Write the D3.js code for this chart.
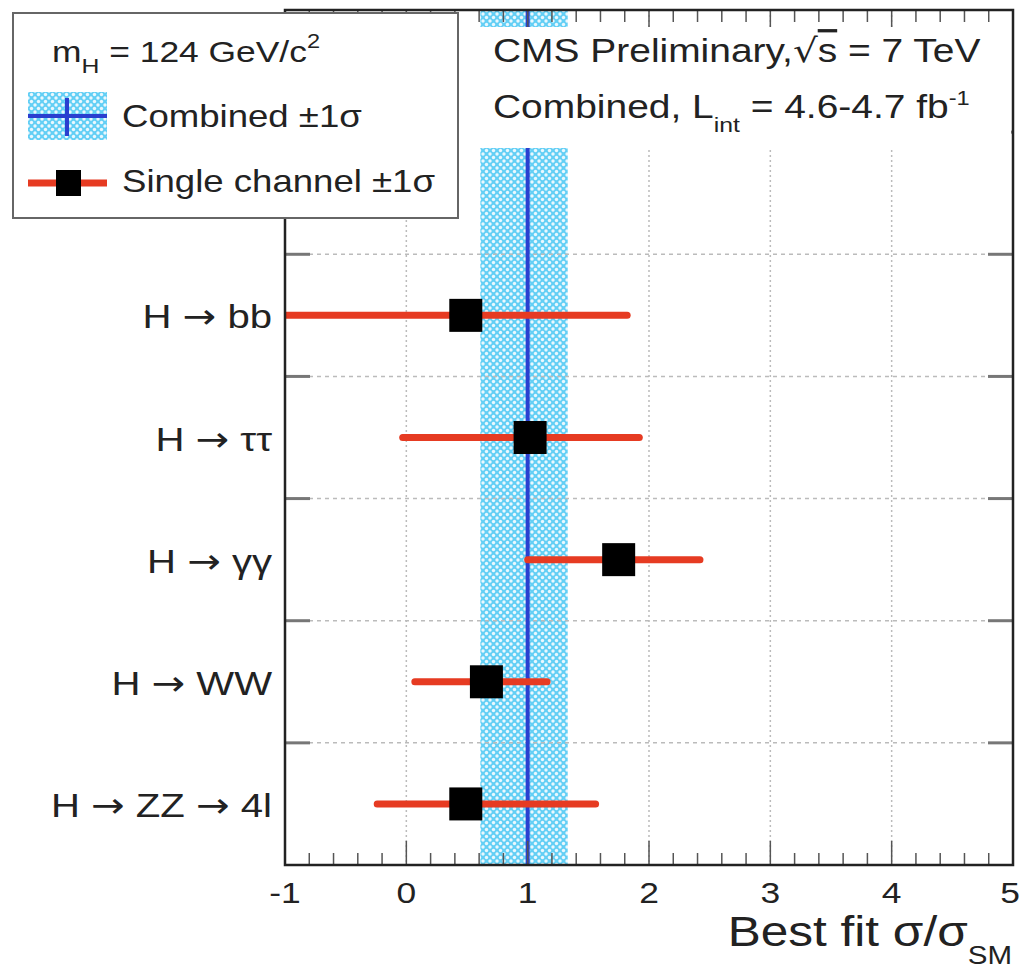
<!DOCTYPE html>
<html>
<head>
<meta charset="utf-8">
<script src="https://cdn.jsdelivr.net/npm/d3@7"></script>
<style>
  html, body { margin: 0; padding: 0; background: #fff; }
  svg { display: block; font-family: "Liberation Sans", Arial, Helvetica, sans-serif; }
  .arrow { font-family: "DejaVu Sans", sans-serif; }
</style>
</head>
<body>
<svg id="chart" width="1021" height="969"></svg>
<script>
// Decay channels, top to bottom
const channels = ["H → bb", "H → ττ", "H → γγ", "H → WW", "H → ZZ → 4l"];
// Best-fit signal strength per channel and its ±1σ interval
const bestFit = [0.49, 1.02, 1.75, 0.66, 0.49];
const lowErr  = [-1.6, -0.03, 1.0, 0.07, -0.24];
const highErr = [1.82, 1.92, 2.42, 1.16, 1.56];
// Combined fit and its ±1σ band
const combined = 1.0;
const combinedLow = 0.61;
const combinedHigh = 1.33;
// Axis ticks
const xTicks = [-1, 0, 1, 2, 3, 4, 5];
const emptyRows = 2;

const svg = d3.select("#chart");
const frame = { left: 285, right: 1013, top: 10, bottom: 865 };
const SX = 1.18;          // horizontal stretch of the lettering
const ink = "#222";

const x = d3.scaleLinear().domain([-1, 5]).range([frame.left, frame.right]);
const rows = d3.range(channels.length + emptyRows);
const y = d3.scaleBand().domain(rows).range([frame.top, frame.bottom]).padding(0);
const rowOf = i => i + emptyRows;

// Text placed at (tx, ty) and widened horizontally
function label(parent, tx, ty, size, anchor) {
  return parent.append("text")
    .attr("transform", `translate(${tx},${ty}) scale(${SX},1)`)
    .attr("font-size", size).attr("fill", ink)
    .attr("text-anchor", anchor || "start");
}
// Split a string so arrows use a font with a long arrow glyph
function fillWithArrows(t, str) {
  str.split(/(→)/).forEach(part => {
    if (!part) return;
    const s = t.append("tspan").text(part);
    if (part === "→") s.attr("class", "arrow");
  });
}

const defs = svg.append("defs");
const pat = defs.append("pattern").attr("id", "hatch").attr("patternUnits", "userSpaceOnUse")
  .attr("width", 7).attr("height", 7);
pat.append("rect").attr("width", 7).attr("height", 7).attr("fill", "#63cff5");
[[0,0],[7,0],[0,7],[7,7],[3.5,3.5]].forEach(([cx, cy]) =>
  pat.append("circle").attr("cx", cx).attr("cy", cy).attr("r", 1.7).attr("fill", "#eaf8fe"));
defs.append("clipPath").attr("id", "plotclip").append("rect")
  .attr("x", frame.left).attr("y", frame.top)
  .attr("width", frame.right - frame.left).attr("height", frame.bottom - frame.top);

const plot = svg.append("g").attr("clip-path", "url(#plotclip)");

// Combined ±1σ band
plot.append("rect")
  .attr("x", x(combinedLow)).attr("y", frame.top)
  .attr("width", x(combinedHigh) - x(combinedLow)).attr("height", frame.bottom - frame.top)
  .attr("fill", "url(#hatch)");

// Grid: dotted verticals at integer x, dashed horizontals at row boundaries
plot.selectAll(".vgrid").data(xTicks.slice(1, -1)).join("line")
  .attr("x1", d => x(d)).attr("x2", d => x(d))
  .attr("y1", frame.top).attr("y2", frame.bottom)
  .attr("stroke", "#bbb").attr("stroke-width", 1.5).attr("stroke-dasharray", "2,3");
plot.selectAll(".hgrid").data(rows.slice(1)).join("line")
  .attr("x1", frame.left).attr("x2", frame.right)
  .attr("y1", d => y(d)).attr("y2", d => y(d))
  .attr("stroke", "#bbb").attr("stroke-width", 1.5).attr("stroke-dasharray", "4,4");

// Combined best fit line
plot.append("line")
  .attr("x1", x(combined)).attr("x2", x(combined))
  .attr("y1", frame.top).attr("y2", frame.bottom)
  .attr("stroke", "#2a3fd0").attr("stroke-width", 4);

// Single-channel error bars and markers
const data = channels.map((c, i) => ({ c, v: bestFit[i], lo: lowErr[i], hi: highErr[i], row: rowOf(i) }));
const cy = d => y(d.row) + y.bandwidth() / 2;
plot.selectAll(".err").data(data).join("line")
  .attr("x1", d => x(d.lo)).attr("x2", d => x(d.hi))
  .attr("y1", cy).attr("y2", cy)
  .attr("stroke", "#e63b22").attr("stroke-width", 7).attr("stroke-linecap", "round");
const ms = 33;
plot.selectAll(".mark").data(data).join("rect")
  .attr("x", d => x(d.v) - ms / 2).attr("y", d => cy(d) - ms / 2)
  .attr("width", ms).attr("height", ms).attr("fill", "#000");

// Axis ticks (major every 1, minor every 0.2) on bottom and top
const minor = d3.range(-1, 5.0001, 0.2).map(v => +v.toFixed(1));
const tickG = svg.append("g").attr("stroke", "#555").attr("stroke-width", 1.5);
minor.forEach(v => {
  const major = Math.abs(v - Math.round(v)) < 1e-6;
  const len = major ? 24 : 12;
  tickG.append("line").attr("x1", x(v)).attr("x2", x(v))
    .attr("y1", frame.bottom).attr("y2", frame.bottom - len);
  tickG.append("line").attr("x1", x(v)).attr("x2", x(v))
    .attr("y1", frame.top).attr("y2", frame.top + len);
});
rows.slice(1).forEach(r => {
  tickG.append("line").attr("x1", frame.left).attr("x2", frame.left + 25)
    .attr("y1", y(r)).attr("y2", y(r)).attr("stroke", "#777").attr("stroke-width", 3);
  tickG.append("line").attr("x1", frame.right).attr("x2", frame.right - 25)
    .attr("y1", y(r)).attr("y2", y(r)).attr("stroke", "#777").attr("stroke-width", 3);
});

// Frame
svg.append("rect").attr("x", frame.left).attr("y", frame.top)
  .attr("width", frame.right - frame.left).attr("height", frame.bottom - frame.top)
  .attr("fill", "none").attr("stroke", ink).attr("stroke-width", 2.5);

// Tick labels (the last one is kept inside the page edge)
xTicks.forEach((d, i) => {
  const last = i === xTicks.length - 1;
  label(svg, last ? x(d) + 7 : x(d), 903, 30, last ? "end" : "middle").text(d);
});

// Category labels
data.forEach(d => fillWithArrows(label(svg, 272, cy(d) + 13, 34, "end"), d.c));

// Axis title
const title = label(svg, 1012, 946, 42, "end");
title.append("tspan").text("Best fit σ/σ");
title.append("tspan").attr("font-size", 25).attr("dy", 18).text("SM");

// Text box with experiment info
svg.append("rect").attr("x", 460).attr("y", 27).attr("width", 551).attr("height", 121).attr("fill", "#fff");
const t1 = label(svg, 493, 62, 33);
t1.append("tspan").text("CMS Preliminary,");
t1.append("tspan").attr("class", "arrow").text("√");
t1.append("tspan").attr("text-decoration", "overline").text("s");
t1.append("tspan").text(" = 7 TeV");
const t2 = label(svg, 493, 118, 33);
t2.append("tspan").text("Combined, L");
t2.append("tspan").attr("font-size", 21).attr("dy", 14).text("int");
t2.append("tspan").attr("dy", -14).text(" = 4.6-4.7 fb");
t2.append("tspan").attr("font-size", 20).attr("dy", -13).text("-1");

// Legend
const lg = svg.append("g");
lg.append("rect").attr("x", 13).attr("y", 13).attr("width", 445).attr("height", 205)
  .attr("fill", "#fff").attr("stroke", "#666").attr("stroke-width", 2);
const l1 = label(lg, 52, 62, 30);
l1.append("tspan").text("m");
l1.append("tspan").attr("font-size", 21).attr("dy", 11).text("H");
l1.append("tspan").attr("dy", -11).text(" = 124 GeV/c");
l1.append("tspan").attr("font-size", 20).attr("dy", -14).text("2");

lg.append("rect").attr("x", 28).attr("y", 92).attr("width", 79).attr("height", 48).attr("fill", "url(#hatch)");
lg.append("line").attr("x1", 28).attr("x2", 107).attr("y1", 116).attr("y2", 116)
  .attr("stroke", "#2a3fd0").attr("stroke-width", 4);
lg.append("line").attr("x1", 67).attr("x2", 67).attr("y1", 98).attr("y2", 136)
  .attr("stroke", "#2a3fd0").attr("stroke-width", 4);
label(lg, 122, 127, 31).text("Combined ±1σ");

lg.append("line").attr("x1", 28).attr("x2", 107).attr("y1", 183).attr("y2", 183)
  .attr("stroke", "#e63b22").attr("stroke-width", 7);
lg.append("rect").attr("x", 56).attr("y", 170).attr("width", 25).attr("height", 26).attr("fill", "#000");
label(lg, 122, 192, 31).text("Single channel ±1σ");
</script>
</body>
</html>
